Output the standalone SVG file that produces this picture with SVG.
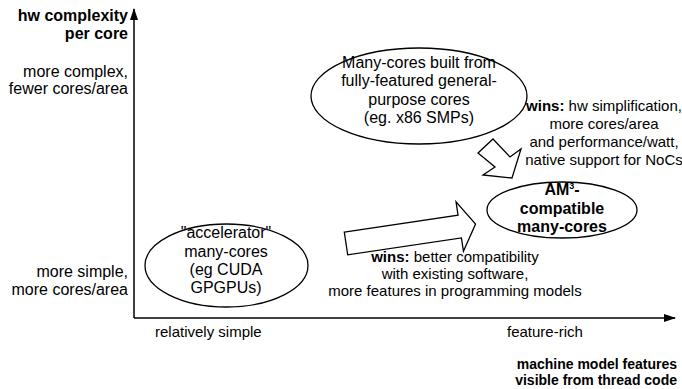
<svg xmlns="http://www.w3.org/2000/svg" width="682" height="389" viewBox="0 0 682 389">
  <defs>
    <style>
      text { font-family: "Liberation Sans", Arial, Helvetica, sans-serif; fill: #000; }
      .lbl { font-size: 16px; }
      .small { font-size: 15px; }
      .tiny { font-size: 14px; }
      .b { font-weight: bold; }
      .end { text-anchor: end; }
      .mid { text-anchor: middle; }
      .shape { fill: #fff; stroke: #000; stroke-width: 1.3; stroke-linejoin: miter; }
      .axis { stroke: #000; stroke-width: 1.5; fill: none; }
    </style>
    <marker id="axhead" viewBox="0 0 12 8" refX="11" refY="4" markerWidth="12" markerHeight="8" markerUnits="userSpaceOnUse" orient="auto">
      <path d="M0,0 L12,4 L0,8 Z" fill="#000"/>
    </marker>
  </defs>

  <!-- axes -->
  <g id="axes">
    <line class="axis" x1="134" y1="318" x2="134" y2="9" marker-end="url(#axhead)"/>
    <line class="axis" x1="134" y1="318" x2="675" y2="318" marker-end="url(#axhead)"/>
    <text class="lbl b end" x="128" y="21">hw complexity</text>
    <text class="lbl b end" x="128" y="39">per core</text>
    <text class="lbl end" x="128" y="77">more complex,</text>
    <text class="lbl end" x="128" y="94">fewer cores/area</text>
    <text class="lbl end" x="128" y="277">more simple,</text>
    <text class="lbl end" x="128" y="295">more cores/area</text>
    <text class="small" x="155" y="337">relatively simple</text>
    <text class="small" x="507" y="337">feature-rich</text>
    <text class="tiny b end" x="677" y="369">machine model features</text>
    <text class="tiny b end" x="677" y="385">visible from thread code</text>
  </g>

  <!-- transition arrows -->
  <g id="connectors">
    <polygon class="shape" transform="translate(346,243.5) rotate(-8.5)" points="0,-11.5 115,-11.5 115,-25 131,0 115,25 115,11.5 0,11.5"/>
    <polygon class="shape" points="493,139 510,157 521,149 512,178 483,175 495,167 478,153"/>
  </g>

  <g id="node-general">
    <ellipse class="shape" cx="419" cy="96" rx="108" ry="48"/>
    <text class="lbl mid" x="419" y="68">Many-cores built from</text>
    <text class="lbl mid" x="419" y="86">fully-featured general-</text>
    <text class="lbl mid" x="419" y="105">purpose cores</text>
    <text class="lbl mid" x="419" y="123">(eg. x86 SMPs)</text>
  </g>

  <g id="node-accelerator">
    <ellipse class="shape" cx="226.5" cy="265.5" rx="81.5" ry="41.5"/>
    <text class="lbl mid" x="226" y="238">"accelerator"</text>
    <text class="lbl mid" x="226" y="257">many-cores</text>
    <text class="lbl mid" x="226" y="275">(eg CUDA</text>
    <text class="lbl mid" x="226" y="293">GPGPUs)</text>
  </g>

  <g id="node-am3">
    <ellipse class="shape" cx="562" cy="210" rx="75" ry="28"/>
    <text class="lbl b mid" x="562" y="195">AM<tspan font-size="9" dy="-6">3</tspan><tspan dy="6">-</tspan></text>
    <text class="lbl b mid" x="562" y="214">compatible</text>
    <text class="lbl b mid" x="562" y="232">many-cores</text>
  </g>

  <g id="label-wins-top">
    <text class="small mid" x="604" y="111"><tspan class="b">wins:</tspan> hw simplification,</text>
    <text class="small mid" x="604" y="129">more cores/area</text>
    <text class="small mid" x="604" y="147">and performance/watt,</text>
    <text class="small mid" x="604" y="165">native support for NoCs</text>
  </g>

  <g id="label-wins-bottom">
    <text class="small mid" x="455" y="262"><tspan class="b">wins:</tspan> better compatibility</text>
    <text class="small mid" x="455" y="279">with existing software,</text>
    <text class="small mid" x="455" y="296">more features in programming models</text>
  </g>
</svg>
